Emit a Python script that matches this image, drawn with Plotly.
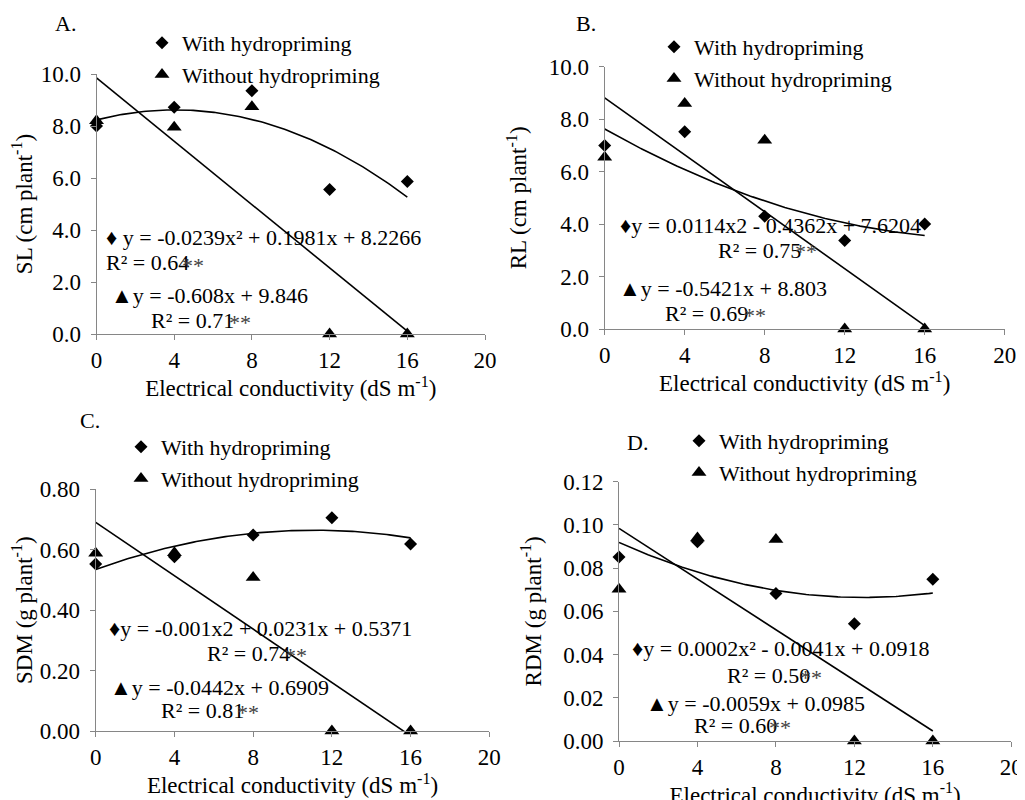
import numpy as np
import plotly.graph_objects as go

# ---------------- data ----------------
ec = [0, 4, 8, 12, 16]

sl_with = [8.00, 8.72, 9.36, 5.56, 5.87]
sl_without = [8.20, 7.95, 8.74, 0.0, 0.0]

rl_with = [7.00, 7.52, 4.30, 3.37, 4.00]
rl_without = [6.55, 8.60, 7.20, 0.0, 0.0]

sdm_with = [0.553, 0.577, 0.649, 0.706, 0.619]
sdm_without = [0.588, 0.590, 0.508, 0.0, 0.0]

rdm_with = [0.0851, 0.0922, 0.0683, 0.0543, 0.0748]
rdm_without = [0.0702, 0.0940, 0.0933, 0.0, 0.0]

x_ticks = [0, 4, 8, 12, 16, 20]

W, H = 1025, 800
OFF = 8  # page body margin
FONT = "Liberation Serif"
AXC = "#868686"


def fx(px):
    return (px - OFF) / W


def fy(py):
    return 1 - (py - OFF) / H


panels = [
    dict(label="A.", ytitle="SL (cm plant<sup>-1</sup>)", yw=sl_with, yo=sl_without, deg_w=2,
         yrange=[0, 10], dtick=2, fmt=".1f",
         xd=(96.5, 485), yd=(74, 334), lab=(53, 23), leg=(142, 22),
         eq1=("♦ y = -0.0239x² + 0.1981x + 8.2266", 104, 237),
         r1=("R² = 0.64", 104, 263, 180),
         eq2=("▲y = -0.608x + 9.846", 109, 295),
         r2=("R² = 0.71", 149, 320, 227)),
    dict(label="B.", ytitle="RL (cm plant<sup>-1</sup>)", yw=rl_with, yo=rl_without, deg_w=2,
         yrange=[0, 10], dtick=2, fmt=".1f",
         xd=(604.7, 1004.7), yd=(66.7, 329), lab=(574, 23), leg=(654, 26),
         eq1=("♦y = 0.0114x2 - 0.4362x + 7.6204", 618, 225),
         r1=("R² = 0.75", 716, 250, 793),
         eq2=("▲y = -0.5421x + 8.803", 617, 288),
         r2=("R² = 0.69", 663, 313, 742)),
    dict(label="C.", ytitle="SDM (g plant<sup>-1</sup>)", yw=sdm_with, yo=sdm_without, deg_w=2,
         yrange=[0, 0.8], dtick=0.2, fmt=".2f",
         xd=(95.7, 489.3), yd=(489.3, 731), lab=(78, 420), leg=(121, 426),
         eq1=("♦y = -0.001x2 + 0.0231x + 0.5371", 107, 628),
         r1=("R² = 0.74", 205, 653, 283),
         eq2=("▲y = -0.0442x + 0.6909", 108, 687),
         r2=("R² = 0.81", 159, 710, 235)),
    dict(label="D.", ytitle="RDM (g plant<sup>-1</sup>)", yw=rdm_with, yo=rdm_without, deg_w=2,
         yrange=[0, 0.12], dtick=0.02, fmt=".2f",
         xd=(619, 1011.3), yd=(481.7, 741), lab=(625, 442), leg=(679, 420),
         eq1=("♦y = 0.0002x² - 0.0041x + 0.0918", 630, 648),
         r1=("R² = 0.50", 725, 675, 798),
         eq2=("▲y = -0.0059x + 0.0985", 644, 703),
         r2=("R² = 0.60", 692, 725, 767)),
]

fig = go.Figure()
annotations = []
xfit = np.linspace(0, 16, 120)

for i, p in enumerate(panels):
    n = i + 1
    xa = "x" if n == 1 else f"x{n}"
    ya = "y" if n == 1 else f"y{n}"
    lg = "legend" if n == 1 else f"legend{n}"

    # trendlines (fitted from the data, as in a spreadsheet trendline)
    cw = np.polyfit(ec, p["yw"], p["deg_w"])
    co = np.polyfit(ec, p["yo"], 1)
    fig.add_trace(go.Scatter(x=xfit, y=np.polyval(cw, xfit), mode="lines",
                             line=dict(color="black", width=1.6), showlegend=False,
                             xaxis=xa, yaxis=ya, hoverinfo="skip"))
    fig.add_trace(go.Scatter(x=xfit, y=np.polyval(co, xfit), mode="lines",
                             line=dict(color="black", width=1.6), showlegend=False,
                             xaxis=xa, yaxis=ya, hoverinfo="skip"))
    # points
    fig.add_trace(go.Scatter(x=ec, y=p["yw"], mode="markers", name="With hydropriming",
                             marker=dict(symbol="diamond", size=10, color="black"),
                             cliponaxis=False, legend=lg, xaxis=xa, yaxis=ya))
    fig.add_trace(go.Scatter(x=ec, y=p["yo"], mode="markers", name="Without hydropriming",
                             marker=dict(symbol="triangle-up", size=13, color="black"),
                             cliponaxis=False, legend=lg, xaxis=xa, yaxis=ya))

    axis_common = dict(showgrid=False, zeroline=False, showline=True, linecolor=AXC,
                       linewidth=1, ticks="outside", ticklen=5, tickcolor=AXC,
                       automargin=False,
                       tickfont=dict(family=FONT, size=23, color="black"))
    fig.update_layout(**{
        ("xaxis" if n == 1 else f"xaxis{n}"): dict(
            axis_common, domain=[fx(p["xd"][0]), fx(p["xd"][1])], anchor=ya,
            range=[0, 20], tickvals=x_ticks,
            title=dict(text="Electrical conductivity (dS m<sup>-1</sup>)",
                       font=dict(family=FONT, size=23, color="black"), standoff=0)),
        ("yaxis" if n == 1 else f"yaxis{n}"): dict(
            axis_common, domain=[fy(p["yd"][1]), fy(p["yd"][0])], anchor=xa,
            range=p["yrange"], dtick=p["dtick"], tickformat=p["fmt"],
            ticklabelstandoff=5,
            title=dict(text=p["ytitle"], font=dict(family=FONT, size=23, color="black"))),
        lg: dict(x=fx(p["leg"][0]), y=fy(p["leg"][1]), xanchor="left", yanchor="top",
                 font=dict(family=FONT, size=22, color="black"), bgcolor="rgba(0,0,0,0)",
                 tracegroupgap=0, itemsizing="trace"),
    })

    tf = dict(family=FONT, size=22, color="black")
    annotations.append(dict(text=p["label"], x=fx(p["lab"][0]), y=fy(p["lab"][1]),
                            xref="paper", yref="paper", xanchor="left", yanchor="middle",
                            showarrow=False, font=tf))
    for key in ("eq1", "eq2"):
        t, px_, py_ = p[key]
        annotations.append(dict(text=t, x=fx(px_), y=fy(py_), xref="paper", yref="paper",
                                xanchor="left", yanchor="middle", showarrow=False, font=tf))
    for key in ("r1", "r2"):
        t, px_, py_, sx = p[key]
        annotations.append(dict(text=t, x=fx(px_), y=fy(py_), xref="paper", yref="paper",
                                xanchor="left", yanchor="middle", showarrow=False, font=tf))
        annotations.append(dict(text="**", x=fx(sx), y=fy(py_ + 2), xref="paper", yref="paper",
                                xanchor="left", yanchor="middle", showarrow=False,
                                font=dict(family=FONT, size=22, color="#404040")))

fig.update_layout(width=W, height=H,
                  margin=dict(l=0, r=0, t=0, b=0, autoexpand=False),
                  paper_bgcolor="white", plot_bgcolor="white",
                  font=dict(family=FONT, size=22, color="black"),
                  annotations=annotations)

fig.write_html("out.html")
